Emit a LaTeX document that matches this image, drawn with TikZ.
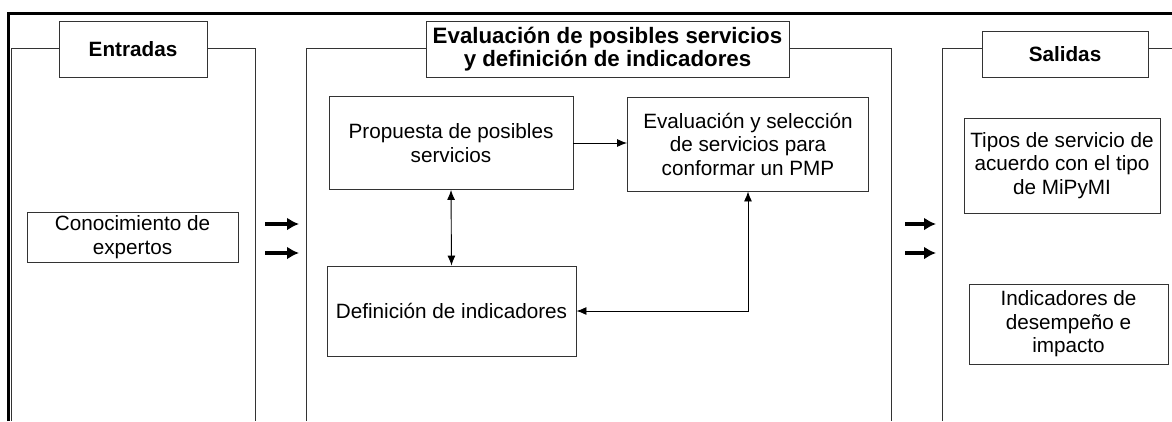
\documentclass[tikz,border=0pt]{standalone}
\usepackage{fontspec}
\setmainfont{Liberation Sans}
\usetikzlibrary{arrows.meta}
\tikzset{
	box/.style={draw=black!80, line width=0.9pt, fill=white, align=center, inner sep=0pt,
		font=\fontsize{20.7}{23.5}\selectfont},
	headbox/.style={box, font=\fontsize{20.7}{22.5}\selectfont\bfseries},
	panel/.style={draw=black!80, line width=0.9pt},
	link/.style={line width=0.9pt, >={Latex[length=10pt,width=8pt]}},
	biglink/.style={line width=3.2pt, -{Latex[length=12pt,width=13pt]}}
}

\begin{document}
\begin{tikzpicture}[x=1pt, y=-1pt]
		%%%%% START %%%%%
		\useasboundingbox (0, 0) rectangle (1172, 421);
		
		\draw[line width=3pt] (8.5, 421) -- (8.5, 13) -- (1172, 13);
		
		% panels
		\draw[panel] (11, 421) -- (11, 48) -- (255, 48) -- (255, 421);
		\draw[panel] (306, 421) -- (306, 48) -- (891, 48) -- (891, 421);
		\draw[panel] (942, 421) -- (942, 48) -- (1173, 48);
		
		\node[headbox, minimum width=148, minimum height=56] (entradas) at (133, 49) {Entradas};
		\node[headbox, minimum width=363, minimum height=56, font=\fontsize{22.3}{22.5}\selectfont\bfseries] (evaluacion) at (607.5, 49) {Evaluación de posibles servicios\\y definición de indicadores};
		\node[headbox, minimum width=166, minimum height=46] (salidas) at (1065, 54) {Salidas};
		
		\node[box, minimum width=211, minimum height=50] (conocimiento) at (132.5, 237) {Conocimiento de\\expertos};
		
		\node[box, minimum width=244, minimum height=93] (propuesta) at (451, 143) {Propuesta de posibles\\servicios};
		\node[box, minimum width=241, minimum height=94] (seleccion) at (748, 144) {Evaluación y selección\\de servicios para\\conformar un PMP};
		\node[box, minimum width=249, minimum height=90] (definicion) at (451.5, 311) {Definición de indicadores};
		
		\node[box, minimum width=196, minimum height=95] (tipos) at (1062, 165.5) {Tipos de servicio de\\acuerdo con el tipo\\de MiPyMI};
		\node[box, minimum width=199, minimum height=80] (indicadores) at (1068.5, 324) {Indicadores de\\desempeño e\\impacto};
		
		\draw[link, ->] (propuesta.east) -- (seleccion.west |- propuesta.east);
		\draw[link, <->] (propuesta.south) -- (definicion.north);
		\draw[link, <->] (seleccion.south) |- (definicion.east);
		
		% flechas entre paneles
		\foreach \y [count=\i] in {224, 253} {
			\coordinate (inA\i) at (265, \y);
			\coordinate (inB\i) at (299, \y);
			\coordinate (outA\i) at (905, \y);
			\coordinate (outB\i) at (936, \y);
			\draw[biglink] (inA\i) -- (inB\i);
			\draw[biglink] (outA\i) -- (outB\i);
		}
		%%%%% END %%%%%
\end{tikzpicture}
\end{document}
